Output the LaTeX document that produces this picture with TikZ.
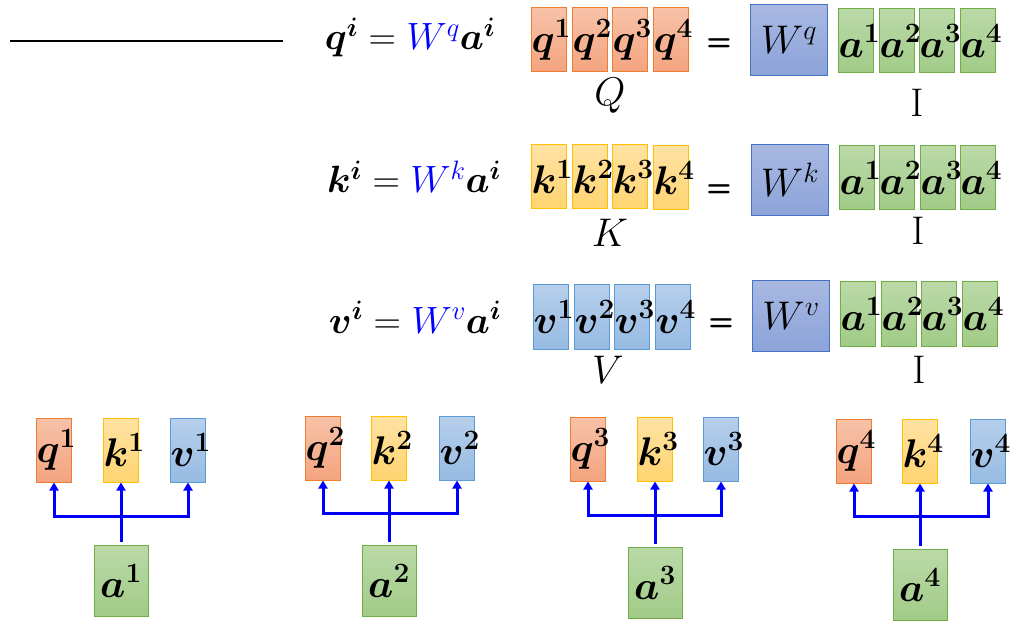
\RequirePackage{fix-cm}
\documentclass[tikz,border=0pt]{standalone}
\usepackage{bm}
\usepackage{tikz}
\usetikzlibrary{arrows.meta}
\definecolor{qtop}{HTML}{F7C2A8}
\definecolor{qbot}{HTML}{F4A47F}
\definecolor{qline}{HTML}{ED7D31}
\definecolor{ktop}{HTML}{FFE2A3}
\definecolor{kbot}{HTML}{FFD470}
\definecolor{kline}{HTML}{FFC000}
\definecolor{vtop}{HTML}{B6CFEB}
\definecolor{vbot}{HTML}{97BBE3}
\definecolor{vline}{HTML}{5B9BD5}
\definecolor{wtop}{HTML}{A8B8E2}
\definecolor{wbot}{HTML}{8CA3D9}
\definecolor{wline}{HTML}{4472C4}
\definecolor{atop}{HTML}{BAD9A8}
\definecolor{abot}{HTML}{A1CB87}
\definecolor{aline}{HTML}{70AD47}

\begin{document}
\begin{tikzpicture}[x=1bp, y=-1bp]
\tikzset{cell/.style={rectangle, inner sep=0pt, line width=1bp, text width=35bp, align=center, minimum height=64bp, font=\fontsize{40bp}{46bp}\selectfont},
		qcell/.style={cell, top color=qtop, bottom color=qbot, draw=qline},
		kcell/.style={cell, top color=ktop, bottom color=kbot, draw=kline},
		vcell/.style={cell, top color=vtop, bottom color=vbot, draw=vline},
		acell/.style={cell, top color=atop, bottom color=abot, draw=aline},
		wcell/.style={cell, top color=wtop, bottom color=wbot, draw=wline, text width=77bp, minimum height=71bp, font=\fontsize{40bp}{46bp}\selectfont},
		inbox/.style={acell, text width=54bp, minimum height=71bp},
		eqn/.style={anchor=base, inner sep=0pt, font=\fontsize{38bp}{44bp}\selectfont},
		equal/.style={inner sep=0pt, font=\fontsize{29bp}{34bp}\sffamily\bfseries},
		mname/.style={inner sep=0pt, font=\fontsize{40bp}{46bp}\selectfont},
		link/.style={draw=blue, line width=3bp},
		arr/.style={link, -{Triangle[width=9bp,length=8bp]}}}
\useasboundingbox (0,0) rectangle (1022,637);

% rule at the top left
\coordinate (rs) at (10,41);
\coordinate (re) at (283,41);
\draw[line width=1.5bp] (rs) -- (re);

% q row
\node[eqn] (EQ) at (410,50) {$\bm{q^i} = \textcolor{blue}{W^q}\bm{a^i}$};
\node[qcell] (Q1) at (549,40) {$\bm{q^1}$};
\node[qcell] (Q2) at (590,40) {$\bm{q^2}$};
\node[qcell] (Q3) at (630,40) {$\bm{q^3}$};
\node[qcell] (Q4) at (671,40) {$\bm{q^4}$};
\node[mname] (QN) at (610,96) {$Q$};
\node[equal] (QE) at (719,45) {=};
\node[wcell] (WQ) at (789,40) {$W^{q}$};
\node[acell] (QA1) at (856,41) {$\bm{a^1}$};
\node[acell] (QA2) at (897,41) {$\bm{a^2}$};
\node[acell] (QA3) at (937,41) {$\bm{a^3}$};
\node[acell] (QA4) at (978,41) {$\bm{a^4}$};
\node[mname] (QI) at (917,103) {$\mathrm{I}$};

% k row
\node[eqn] (EK) at (414,193) {$\bm{k^i} = \textcolor{blue}{W^k}\bm{a^i}$};
\node[kcell] (K1) at (549,177) {$\bm{k^1}$};
\node[kcell] (K2) at (590,177) {$\bm{k^2}$};
\node[kcell] (K3) at (630,177) {$\bm{k^3}$};
\node[kcell] (K4) at (671,178) {$\bm{k^4}$};
\node[mname] (KN) at (610,233) {$K$};
\node[equal] (KE) at (719,191) {=};
\node[wcell] (WK) at (790,180) {$W^{k}$};
\node[acell] (KA1) at (857,178) {$\bm{a^1}$};
\node[acell] (KA2) at (897,178) {$\bm{a^2}$};
\node[acell] (KA3) at (938,178) {$\bm{a^3}$};
\node[acell] (KA4) at (978,178) {$\bm{a^4}$};
\node[mname] (KI) at (918,231) {$\mathrm{I}$};

% v row
\node[eqn] (EV) at (415,333) {$\bm{v^i} = \textcolor{blue}{W^v}\bm{a^i}$};
\node[vcell] (V1) at (551,317) {$\bm{v^1}$};
\node[vcell] (V2) at (592,317) {$\bm{v^2}$};
\node[vcell] (V3) at (632,317) {$\bm{v^3}$};
\node[vcell] (V4) at (673,317) {$\bm{v^4}$};
\node[mname] (VN) at (608,370) {$V$};
\node[equal] (VE) at (721,325) {=};
\node[wcell] (WV) at (791,316) {$W^{v}$};
\node[acell] (VA1) at (858,314) {$\bm{a^1}$};
\node[acell] (VA2) at (899,314) {$\bm{a^2}$};
\node[acell] (VA3) at (939,314) {$\bm{a^3}$};
\node[acell] (VA4) at (980,314) {$\bm{a^4}$};
\node[mname] (VI) at (919,370) {$\mathrm{I}$};

% input 1
\node[qcell] (q1) at (54,450) {$\bm{q^1}$};
\node[kcell] (k1) at (121,450) {$\bm{k^1}$};
\node[vcell] (v1) at (188,450) {$\bm{v^1}$};
\node[inbox] (a1) at (121,581) {$\bm{a^1}$};
\coordinate (j1) at (121,516);
\draw[link, shorten <=3bp] (a1.north) -- (j1);
\draw[arr] (j1) -| (q1);
\draw[arr] (j1) -- (k1);
\draw[arr] (j1) -| (v1);

% input 2
\node[qcell] (q2) at (323,448) {$\bm{q^2}$};
\node[kcell] (k2) at (389,448) {$\bm{k^2}$};
\node[vcell] (v2) at (457,448) {$\bm{v^2}$};
\node[inbox] (a2) at (389,581) {$\bm{a^2}$};
\coordinate (j2) at (389,513);
\draw[link, shorten <=3bp] (a2.north) -- (j2);
\draw[arr] (j2) -| (q2);
\draw[arr] (j2) -- (k2);
\draw[arr] (j2) -| (v2);

% input 3
\node[qcell] (q3) at (588,449) {$\bm{q^3}$};
\node[kcell] (k3) at (655,449) {$\bm{k^3}$};
\node[vcell] (v3) at (721,449) {$\bm{v^3}$};
\node[inbox] (a3) at (655,583) {$\bm{a^3}$};
\coordinate (j3) at (655,515);
\draw[link, shorten <=3bp] (a3.north) -- (j3);
\draw[arr] (j3) -| (q3);
\draw[arr] (j3) -- (k3);
\draw[arr] (j3) -| (v3);

% input 4
\node[qcell] (q4) at (854,451) {$\bm{q^4}$};
\node[kcell] (k4) at (920,451) {$\bm{k^4}$};
\node[vcell] (v4) at (988,451) {$\bm{v^4}$};
\node[inbox] (a4) at (920,585) {$\bm{a^4}$};
\coordinate (j4) at (920,516);
\draw[link, shorten <=3bp] (a4.north) -- (j4);
\draw[arr] (j4) -| (q4);
\draw[arr] (j4) -- (k4);
\draw[arr] (j4) -| (v4);
\end{tikzpicture}
\end{document}
